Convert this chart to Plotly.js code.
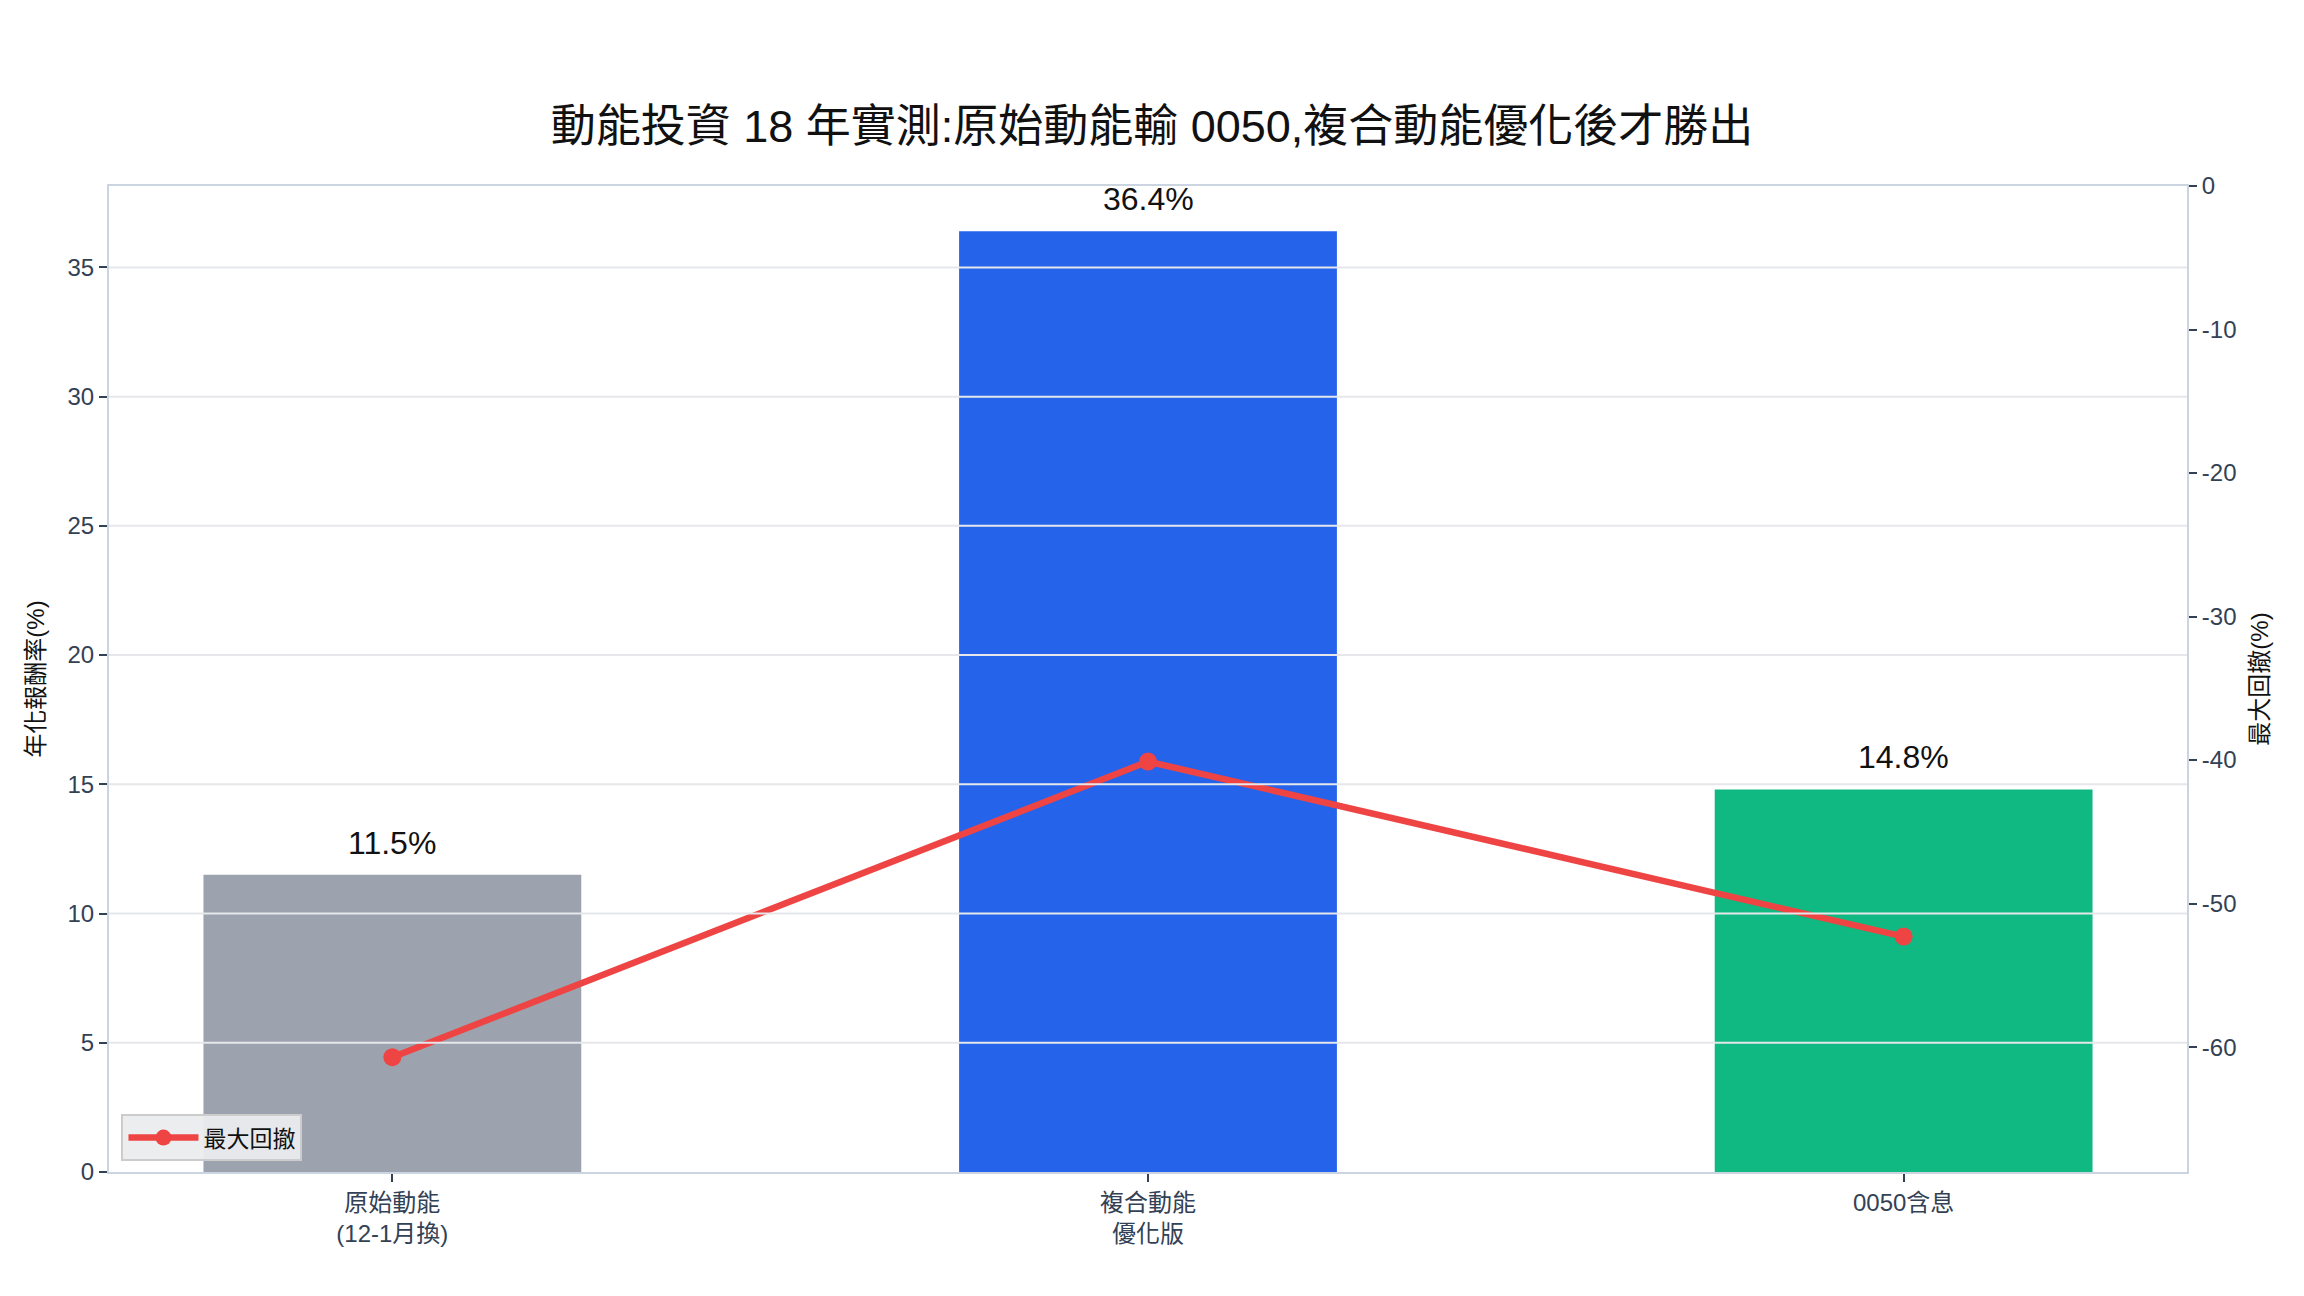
<!DOCTYPE html>
<html>
<head>
<meta charset="utf-8">
<script src="https://cdn.plot.ly/plotly-3.0.1.min.js"></script>
<style>html,body{margin:0;padding:0;background:#fff;}</style>
</head>
<body>
<div id="chart" style="width:2304px;height:1296px;"></div>
<script>
var categories = ['原始動能<br>(12-1月換)', '複合動能<br>優化版', '0050含息'];
var annualReturn = [11.5, 36.4, 14.8];
var maxDrawdown = [-60.7, -40.1, -52.3];
var barColors = ['#9CA3AF', '#2563EB', '#10B981'];
var leftTicks = [0, 5, 10, 15, 20, 25, 30, 35];
var rightTicks = [0, -10, -20, -30, -40, -50, -60];

var fontFamily = '"Liberation Sans", Arial, "Noto Sans CJK TC", sans-serif';

function makeChart(divElement) {
  var plotDiv = document.getElementById(divElement);

  var bars = {
    x: categories, y: annualReturn, type: 'bar', width: 0.5,
    marker: { color: barColors },
    showlegend: false, hoverinfo: 'skip'
  };

  var line = {
    x: categories, y: maxDrawdown, yaxis: 'y2', type: 'scatter', mode: 'lines+markers',
    name: '最大回撤',
    line: { color: '#EF4444', width: 6.5 },
    marker: { color: '#EF4444', size: 18 }
  };

  // value labels above each bar
  var barLabels = categories.map(function (c, i) {
    return { x: c, y: annualReturn[i], xref: 'x', yref: 'y', text: annualReturn[i].toFixed(1) + '%',
             showarrow: false, yanchor: 'bottom', yshift: 12,
             font: { size: 32, color: '#111111', family: fontFamily } };
  });

  // grid drawn above the bars, like the source
  var gridShapes = leftTicks.filter(function (t) { return t > 0; }).map(function (t) {
    return { type: 'line', xref: 'paper', x0: 0, x1: 1, yref: 'y', y0: t, y1: t,
             layer: 'above', line: { color: '#E5E7EB', width: 2 } };
  });

  var axisCommon = {
    showline: true, linecolor: '#CBD5E1', linewidth: 2,
    ticks: 'outside', ticklen: 8, tickwidth: 2, tickcolor: '#334155',
    tickfont: { size: 24, color: '#334155', family: fontFamily },
    zeroline: false, showgrid: false
  };

  var layout = {
    width: 2304, height: 1296,
    margin: { l: 109, r: 117, t: 186, b: 124 },
    paper_bgcolor: '#FFFFFF', plot_bgcolor: '#FFFFFF',
    font: { family: fontFamily, color: '#111111' },
    title: { text: '動能投資 18 年實測:原始動能輸 0050,複合動能優化後才勝出',
             font: { size: 45, color: '#111111', family: fontFamily },
             x: 0.5, xanchor: 'center', y: 1 - 126 / 1296, yanchor: 'middle' },
    xaxis: Object.assign({}, axisCommon, { range: [-0.375, 2.375], mirror: true }),
    yaxis: Object.assign({}, axisCommon, {
      range: [0, 38.15], tickvals: leftTicks, mirror: true,
      title: { text: '年化報酬率(%)', standoff: 16, font: { size: 24, color: '#111111', family: fontFamily } }
    }),
    yaxis2: Object.assign({}, axisCommon, {
      overlaying: 'y', side: 'right', range: [-68.7, 0], tickvals: rightTicks,
      ticktext: rightTicks.map(function (t) { return String(t); }),
      title: { text: '最大回撤(%)', standoff: 16, font: { size: 24, color: '#111111', family: fontFamily } }
    }),
    shapes: gridShapes,
    annotations: barLabels,
    legend: {
      x: 0.006, y: 0.011, xanchor: 'left', yanchor: 'bottom',
      bgcolor: 'rgba(235,236,238,0.95)', bordercolor: '#CCCCCC', borderwidth: 2,
      itemwidth: 70,
      font: { size: 23, color: '#111111', family: fontFamily }
    }
  };

  Plotly.newPlot(plotDiv, [bars, line], layout, { displayModeBar: false });
}

makeChart('chart');
</script>
</body>
</html>
